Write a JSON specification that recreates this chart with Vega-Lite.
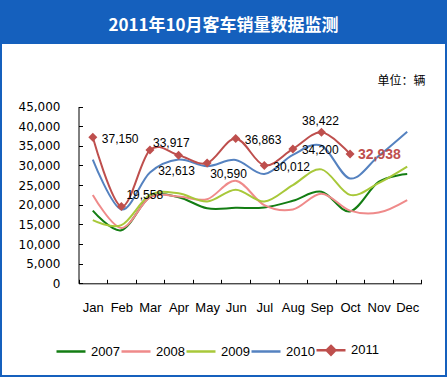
{
  "$schema": "https://vega.github.io/schema/vega-lite/v6.json",
  "width": 443,
  "height": 331,
  "autosize": {"type": "none"},
  "padding": {"left": 2, "top": 44, "right": 2, "bottom": 2},
  "background": "#1560bd",
  "title": {
    "text": "2011年10月客车销量数据监测",
    "color": "#ffffff",
    "font": "Noto Sans CJK SC",
    "fontSize": 17,
    "fontWeight": "bold",
    "anchor": "middle",
    "frame": "group",
    "offset": 9
  },
  "config": {
    "view": {"fill": "#ffffff", "stroke": null},
    "font": "Liberation Sans"
  },
  "data": {
    "values": [
      {"year": "2007", "month": "Jan", "sales": 18500},
      {"year": "2007", "month": "Feb", "sales": 13500},
      {"year": "2007", "month": "Mar", "sales": 22000},
      {"year": "2007", "month": "Apr", "sales": 21900},
      {"year": "2007", "month": "May", "sales": 19100},
      {"year": "2007", "month": "Jun", "sales": 19200},
      {"year": "2007", "month": "Jul", "sales": 19300},
      {"year": "2007", "month": "Aug", "sales": 21000},
      {"year": "2007", "month": "Sep", "sales": 23300},
      {"year": "2007", "month": "Oct", "sales": 18300},
      {"year": "2007", "month": "Nov", "sales": 25800},
      {"year": "2007", "month": "Dec", "sales": 27800},
      {"year": "2008", "month": "Jan", "sales": 22500},
      {"year": "2008", "month": "Feb", "sales": 14100},
      {"year": "2008", "month": "Mar", "sales": 21900},
      {"year": "2008", "month": "Apr", "sales": 22100},
      {"year": "2008", "month": "May", "sales": 21400},
      {"year": "2008", "month": "Jun", "sales": 26100},
      {"year": "2008", "month": "Jul", "sales": 19900},
      {"year": "2008", "month": "Aug", "sales": 18800},
      {"year": "2008", "month": "Sep", "sales": 22800},
      {"year": "2008", "month": "Oct", "sales": 18500},
      {"year": "2008", "month": "Nov", "sales": 18000},
      {"year": "2008", "month": "Dec", "sales": 21200},
      {"year": "2009", "month": "Jan", "sales": 16100},
      {"year": "2009", "month": "Feb", "sales": 14800},
      {"year": "2009", "month": "Mar", "sales": 22500},
      {"year": "2009", "month": "Apr", "sales": 22900},
      {"year": "2009", "month": "May", "sales": 20800},
      {"year": "2009", "month": "Jun", "sales": 23800},
      {"year": "2009", "month": "Jul", "sales": 20800},
      {"year": "2009", "month": "Aug", "sales": 25000},
      {"year": "2009", "month": "Sep", "sales": 29000},
      {"year": "2009", "month": "Oct", "sales": 22500},
      {"year": "2009", "month": "Nov", "sales": 25500},
      {"year": "2009", "month": "Dec", "sales": 29700},
      {"year": "2010", "month": "Jan", "sales": 31500},
      {"year": "2010", "month": "Feb", "sales": 18800},
      {"year": "2010", "month": "Mar", "sales": 28200},
      {"year": "2010", "month": "Apr", "sales": 31500},
      {"year": "2010", "month": "May", "sales": 29800},
      {"year": "2010", "month": "Jun", "sales": 31400},
      {"year": "2010", "month": "Jul", "sales": 27800},
      {"year": "2010", "month": "Aug", "sales": 32700},
      {"year": "2010", "month": "Sep", "sales": 35000},
      {"year": "2010", "month": "Oct", "sales": 26700},
      {"year": "2010", "month": "Nov", "sales": 32400},
      {"year": "2010", "month": "Dec", "sales": 38600},
      {"year": "2011", "month": "Jan", "sales": 37150},
      {"year": "2011", "month": "Feb", "sales": 19558},
      {"year": "2011", "month": "Mar", "sales": 33917},
      {"year": "2011", "month": "Apr", "sales": 32613},
      {"year": "2011", "month": "May", "sales": 30590},
      {"year": "2011", "month": "Jun", "sales": 36863},
      {"year": "2011", "month": "Jul", "sales": 30012},
      {"year": "2011", "month": "Aug", "sales": 34200},
      {"year": "2011", "month": "Sep", "sales": 38422},
      {"year": "2011", "month": "Oct", "sales": 32938}
    ]
  },
  "encoding": {
    "x": {
      "field": "month",
      "type": "nominal",
      "sort": ["Jan", "Feb", "Mar", "Apr", "May", "Jun", "Jul", "Aug", "Sep", "Oct", "Nov", "Dec"],
      "scale": {"range": [76.5, 419.5], "paddingInner": 0, "paddingOuter": 0},
      "axis": {
        "orient": "bottom",
        "offset": -91.7,
        "title": null,
        "labelAngle": 0,
        "labelFont": "Liberation Sans",
        "labelFontSize": 13,
        "labelColor": "#000000",
        "labelPadding": 22,
        "tickBand": "extent",
        "tickSize": -4,
        "tickColor": "#000000",
        "domainColor": "#000000",
        "grid": false
      }
    },
    "y": {
      "field": "sales",
      "type": "quantitative",
      "scale": {"domain": [0, 45000], "range": [239.3, 62.5], "nice": false},
      "axis": {
        "orient": "left",
        "offset": -76.5,
        "values": [0, 5000, 10000, 15000, 20000, 25000, 30000, 35000, 40000, 45000],
        "format": ",d",
        "grid": false,
        "labelFont": "DejaVu Sans",
        "labelFontSize": 12,
        "labelColor": "#000000",
        "labelPadding": 22.5,
        "tickSize": -4,
        "tickColor": "#000000",
        "domainColor": "#000000",
        "title": "单位：辆",
        "titleAngle": 0,
        "titleAlign": "right",
        "titleBaseline": "middle",
        "titleX": 346.5,
        "titleY": 36,
        "titleFont": "Noto Sans CJK SC",
        "titleFontSize": 12,
        "titleFontWeight": "normal",
        "titleColor": "#000000"
      }
    }
  },
  "layer": [
    {
      "mark": {"type": "line", "interpolate": "cardinal", "strokeWidth": 2},
      "encoding": {
        "color": {
          "field": "year",
          "type": "nominal",
          "scale": {
            "domain": ["2007", "2008", "2009", "2010", "2011"],
            "range": ["#137d13", "#ef8a8a", "#a8c83a", "#5582c0", "#be4f4d"]
          },
          "legend": {
            "title": null,
            "orient": "none",
            "direction": "horizontal",
            "legendX": 53,
            "legendY": 290,
            "padding": 0,
            "symbolType": "stroke",
            "symbolSize": 841,
            "symbolStrokeWidth": 2.5,
            "labelFont": "Liberation Sans",
            "labelFontSize": 13,
            "labelColor": "#000000",
            "labelOffset": 4,
            "columnPadding": -4,
            "encode": {
              "symbols": {
                "update": {
                  "shape": {"signal": "datum.label === '2011' ? 'M-1,0H1M0,-0.3L0.3,0L0,0.3L-0.3,0Z' : 'stroke'"},
                  "fill": {"signal": "datum.label === '2011' ? '#be4f4d' : 'transparent'"}
                }
              }
            }
          }
        }
      }
    },
    {
      "transform": [{"filter": {"field": "year", "equal": "2011"}}],
      "mark": {"type": "point", "shape": "diamond", "filled": true, "size": 81, "color": "#be4f4d", "opacity": 1}
    },
    {
      "transform": [{"filter": {"and": [{"field": "year", "equal": "2011"}, {"field": "month", "oneOf": ["Jan", "Jun", "Jul", "Aug"]}]}}],
      "mark": {"type": "text", "align": "left", "baseline": "middle", "dx": 9, "dy": 1.5, "fontSize": 12, "color": "#000000"},
      "encoding": {"text": {"field": "sales", "type": "quantitative", "format": ","}}
    },
    {
      "transform": [{"filter": {"and": [{"field": "year", "equal": "2011"}, {"field": "month", "oneOf": ["Feb"]}]}}],
      "mark": {"type": "text", "align": "left", "baseline": "middle", "dx": 5, "dy": -11, "fontSize": 12, "color": "#000000"},
      "encoding": {"text": {"field": "sales", "type": "quantitative", "format": ","}}
    },
    {
      "transform": [{"filter": {"and": [{"field": "year", "equal": "2011"}, {"field": "month", "oneOf": ["Mar"]}]}}],
      "mark": {"type": "text", "align": "left", "baseline": "middle", "dx": 3, "dy": -7.5, "fontSize": 12, "color": "#000000"},
      "encoding": {"text": {"field": "sales", "type": "quantitative", "format": ","}}
    },
    {
      "transform": [{"filter": {"and": [{"field": "year", "equal": "2011"}, {"field": "month", "oneOf": ["Apr"]}]}}],
      "mark": {"type": "text", "align": "center", "baseline": "middle", "dx": -2, "dy": 16, "fontSize": 12, "color": "#000000"},
      "encoding": {"text": {"field": "sales", "type": "quantitative", "format": ","}}
    },
    {
      "transform": [{"filter": {"and": [{"field": "year", "equal": "2011"}, {"field": "month", "oneOf": ["May"]}]}}],
      "mark": {"type": "text", "align": "left", "baseline": "middle", "dx": 3, "dy": 11, "fontSize": 12, "color": "#000000"},
      "encoding": {"text": {"field": "sales", "type": "quantitative", "format": ","}}
    },
    {
      "transform": [{"filter": {"and": [{"field": "year", "equal": "2011"}, {"field": "month", "oneOf": ["Sep"]}]}}],
      "mark": {"type": "text", "align": "center", "baseline": "middle", "dx": -1, "dy": -11, "fontSize": 12, "color": "#000000"},
      "encoding": {"text": {"field": "sales", "type": "quantitative", "format": ","}}
    },
    {
      "transform": [{"filter": {"and": [{"field": "year", "equal": "2011"}, {"field": "month", "oneOf": ["Oct"]}]}}],
      "mark": {"type": "text", "align": "left", "baseline": "middle", "dx": 8, "dy": 1, "fontSize": 14, "fontWeight": "bold", "color": "#be4f4d"},
      "encoding": {"text": {"field": "sales", "type": "quantitative", "format": ","}}
    }
  ]
}
